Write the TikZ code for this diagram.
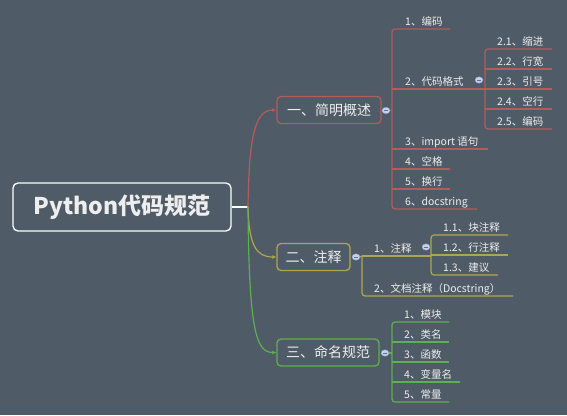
\documentclass[tikz,border=0pt]{standalone}
\usepackage{fontspec}
\newfontfamily\cjk{Noto Sans CJK SC}
\usetikzlibrary{arrows.meta,shapes.geometric}
\definecolor{bg}{HTML}{4F5B67}
\definecolor{rl}{HTML}{B35C5C}
\definecolor{yl}{HTML}{ADA553}
\definecolor{gl}{HTML}{5DB04F}
\definecolor{tx}{HTML}{EEEEEE}
\definecolor{cfill}{HTML}{C4D2EE}
\definecolor{cdraw}{HTML}{8A9CC8}
\tikzset{
  root/.style={draw=white, line width=1.3pt, rounded corners=5pt, minimum width=218pt, minimum height=48pt, font=\cjk\bfseries\fontsize{23}{25}\selectfont, text=tx, inner sep=0pt},
  branch/.style={line width=1.3pt, rounded corners=4pt, minimum height=27pt, font=\cjk\fontsize{14}{16}\selectfont, text=tx, inner sep=0pt},
  itemtext/.style={anchor=base west, inner sep=0pt, font=\cjk\fontsize{10.5}{12}\selectfont, text=tx},
  conn/.style={line width=1.2pt, -{Latex[length=4pt,width=4pt]}},
  uline/.style={line width=1.2pt},
  collapse/.style={ellipse, draw=cdraw, fill=cfill, line width=0.4pt, minimum width=8pt, minimum height=6.5pt, inner sep=0pt,
    path picture={\draw[cdraw!70!black, line width=0.8pt] ([xshift=-2pt]path picture bounding box.center) -- ([xshift=2pt]path picture bounding box.center);}},
}
\begin{document}
\begin{tikzpicture}[x=1pt,y=-1pt]
\fill[bg] (0,0) rectangle (567,415);
\useasboundingbox (0,0) rectangle (567,415);

% root
\node[root] (root) at (122,207) {Python代码规范};
\coordinate (j) at (248,207);
\draw[white, line width=1.2pt] (root.east) -- (j);

% branches
\node[branch, draw=rl, minimum width=104pt] (b1) at (329,110) {一、简明概述};
\node[branch, draw=yl, minimum width=73pt] (b2) at (313.5,257) {二、注释};
\node[branch, draw=gl, minimum width=102pt] (b3) at (328,352.5) {三、命名规范};

\draw[conn, rl] (j) .. controls (249,140) and (254,110) .. (b1.west);
\draw[conn, yl] (j) .. controls (249,245) and (256,257) .. (b2.west);
\draw[conn, gl] (j) .. controls (249,330) and (256,352.5) .. (b3.west);

% ---------- red subtree
\node[collapse] (c1) at (386,110.5) {};
\coordinate (rv) at (392,110.5);
\draw[uline, rl] (c1.east) -- (rv);
\draw[uline, rl, rounded corners=3pt] (450,29) -- (392,29) -- (392,209) -- (477,209);
\foreach \y/\xe in {89/485,149/488,169/450,189/450}
  \draw[uline, rl] (392,\y) -- (\xe,\y);
\node[itemtext] (r1) at (405,25) {1、编码};
\node[itemtext] (r2) at (405,85) {2、代码格式};
\node[itemtext] (r3) at (405,145) {3、import 语句};
\node[itemtext] (r4) at (405,165) {4、空格};
\node[itemtext] (r5) at (405,185) {5、换行};
\node[itemtext] (r6) at (405,205) {6、docstring};
\node[collapse] (c1b) at (479,80) {};
% sub of 2
\draw[uline, rl, rounded corners=3pt] (552,49) -- (485,49) -- (485,129) -- (552,129);
\foreach \y in {69,89,109}
  \draw[uline, rl] (485,\y) -- (552,\y);
\node[itemtext] (r21) at (497,45) {2.1、缩进};
\node[itemtext] (r22) at (497,65) {2.2、行宽};
\node[itemtext] (r23) at (497,85) {2.3、引号};
\node[itemtext] (r24) at (497,105) {2.4、空行};
\node[itemtext] (r25) at (497,125) {2.5、编码};

% ---------- yellow subtree
\node[collapse] (c2) at (356,257) {};
\coordinate (yv) at (362,256);
\draw[uline, yl] (c2.east) -- (yv);
\draw[uline, yl] (yv) -- (431,256);
\draw[uline, yl, rounded corners=3pt] (yv) -- (362,296) -- (513,296);
\node[itemtext] (y1) at (374,252) {1、注释};
\node[itemtext] (y2) at (374,292) {2、文档注释（Docstring）};
\node[collapse] (c2b) at (426,247) {};
\draw[uline, yl, rounded corners=3pt] (508,235) -- (431,235) -- (431,275) -- (498,275);
\draw[uline, yl] (431,255) -- (508,255);
\node[itemtext] (y11) at (443,231) {1.1、块注释};
\node[itemtext] (y12) at (443,251) {1.2、行注释};
\node[itemtext] (y13) at (443,271) {1.3、建议};

% ---------- green subtree
\node[collapse] (c3) at (385,353) {};
\coordinate (gv) at (392,353);
\draw[uline, gl] (c3.east) -- (gv);
\draw[uline, gl, rounded corners=3pt] (449,322) -- (392,322) -- (392,402) -- (449,402);
\foreach \y/\xe in {342/449,362/449,382/460}
  \draw[uline, gl] (392,\y) -- (\xe,\y);
\node[itemtext] (g1) at (404,318) {1、模块};
\node[itemtext] (g2) at (404,338) {2、类名};
\node[itemtext] (g3) at (404,358) {3、函数};
\node[itemtext] (g4) at (404,378) {4、变量名};
\node[itemtext] (g5) at (404,398) {5、常量};
\end{tikzpicture}
\end{document}
